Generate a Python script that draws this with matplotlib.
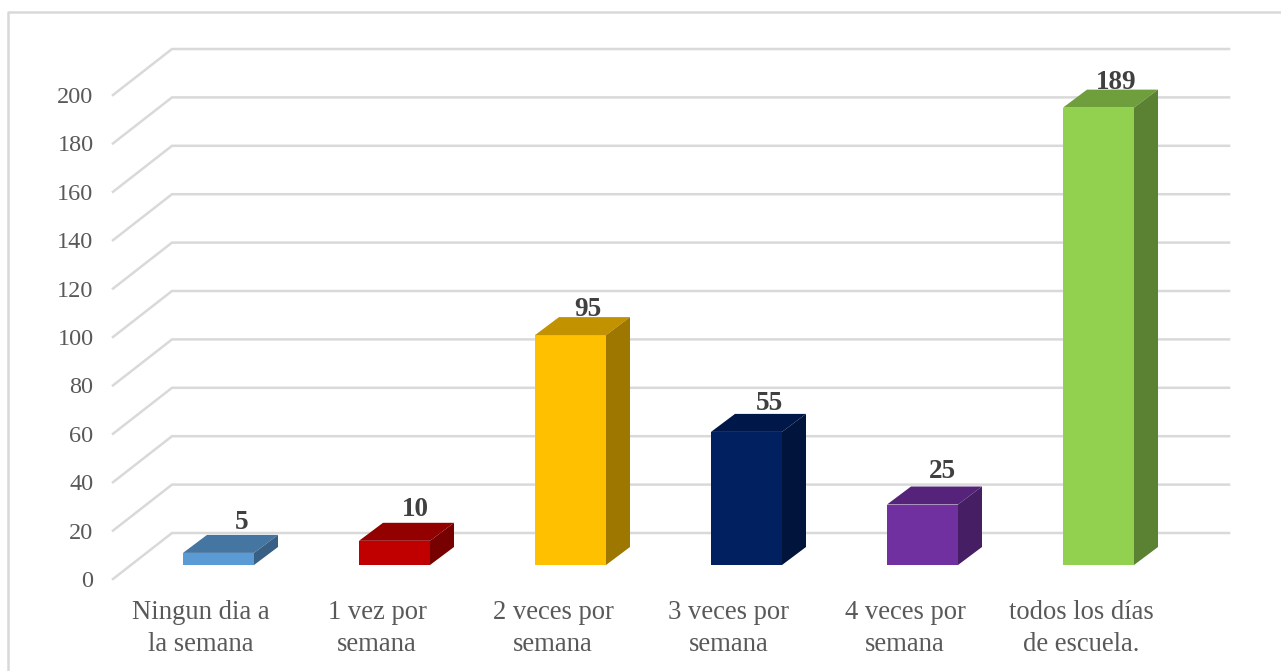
import matplotlib
matplotlib.use("Agg")
import matplotlib.pyplot as plt
from matplotlib.patches import Polygon
from matplotlib.lines import Line2D
from matplotlib.colors import to_rgb

categories = ["Ningun dia a\nla semana", "1 vez por\nsemana", "2 veces por\nsemana",
              "3 veces por\nsemana", "4 veces por\nsemana", "todos los días\nde escuela."]
values = [5, 10, 95, 55, 25, 189]
colors = ["#5B9BD5", "#C00000", "#FFC000", "#002060", "#7030A0", "#92D050"]
y_ticks = list(range(0, 201, 20))

W, H = 1281, 671
PX_PER_UNIT = (579 - 95) / 200
PX_PER_CAT = 176
FIRST_CENTER = 218.5
BAR_W = 71
DEPTH = (24, 18)          # bar depth, px
WALL = (59, 46)           # wall depth, px
BASE = 14                 # bar base above front floor edge, px
LABEL_SHIFT = [(23.5, 6), (21, 7), (17.5, 1.5), (22.5, 4), (20, 8), (17.5, 1)]
GRID = "#D9D9D9"

plt.rcParams["font.family"] = ["Liberation Serif", "DejaVu Serif"]
fig = plt.figure(figsize=(W / 100, H / 100), dpi=100, facecolor="white")
L, R, T, B = 113, 1229, 95, 579
ax = fig.add_axes([L / W, 1 - B / H, (R - L) / W, (B - T) / H])
ax.set_xlim((L - FIRST_CENTER) / PX_PER_CAT, (R - FIRST_CENTER) / PX_PER_CAT)
ax.set_ylim(0, 200)
for s in ax.spines.values():
    s.set_visible(False)
ax.patch.set_alpha(0)

dx = lambda px: px / PX_PER_CAT
dy = lambda px: px / PX_PER_UNIT
x0, x1 = ax.get_xlim()

for v in y_ticks:
    ax.plot([x0, x0 + dx(WALL[0]), x1], [v, v + dy(WALL[1]), v + dy(WALL[1])],
            color=GRID, lw=1.8, clip_on=False, zorder=1, solid_joinstyle="miter")


def shade(c, f):
    return tuple(ch * f for ch in to_rgb(c))


for i, (v, c) in enumerate(zip(values, colors)):
    l, r = i - dx(BAR_W / 2), i + dx(BAR_W / 2)
    b, t = dy(BASE), dy(BASE) + v
    ddx, ddy = dx(DEPTH[0]), dy(DEPTH[1])
    ax.add_patch(Polygon([(l, b), (r, b), (r, t), (l, t)], fc=c, ec="none", zorder=3, clip_on=False))
    ax.add_patch(Polygon([(l, t), (r, t), (r + ddx, t + ddy), (l + ddx, t + ddy)],
                         fc=shade(c, 0.76), ec="none", zorder=3, clip_on=False))
    ax.add_patch(Polygon([(r, b), (r + ddx, b + ddy), (r + ddx, t + ddy), (r, t)],
                         fc=shade(c, 0.62), ec="none", zorder=3, clip_on=False))
    sx, sy = LABEL_SHIFT[i]
    ax.text(i + dx(sx), t + ddy + dy(sy), str(v), ha="center", va="baseline",
            fontsize=19.5, fontweight="bold", color="#404040", zorder=4, clip_on=False)

ax.set_yticks(y_ticks)
ax.set_yticklabels([str(v) for v in y_ticks], fontsize=17.5, color="#595959")
ax.set_xticks([i - dx(17.5) for i in range(len(categories))])
ax.set_xticklabels(categories, fontsize=19.2, color="#595959", linespacing=1.38)
ax.tick_params(axis="both", length=0)
ax.tick_params(axis="y", pad=14)
ax.tick_params(axis="x", pad=15)

# chart frame
fig.add_artist(Line2D([8 / W, 8 / W, 1], [0, 1 - 12 / H, 1 - 12 / H],
                      transform=fig.transFigure, color=GRID, lw=1.8))

fig.savefig("out.png", dpi=100, facecolor="white")
